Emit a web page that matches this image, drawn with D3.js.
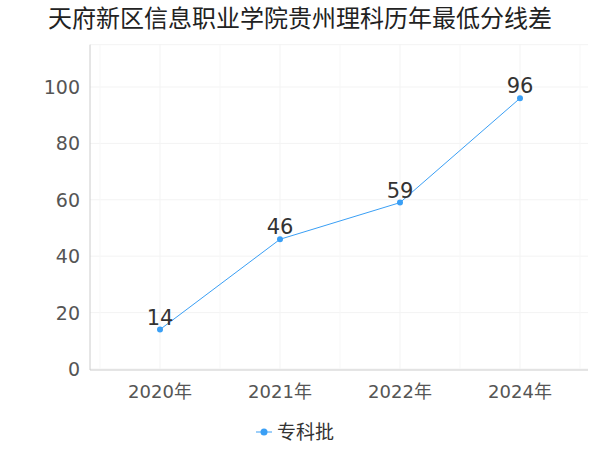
<!DOCTYPE html>
<html><head><meta charset="utf-8">
<script src="https://cdn.jsdelivr.net/npm/d3@7"></script>
<style>body{margin:0;background:#fff}text{font-family:"DejaVu Sans","Noto Sans CJK SC",sans-serif}</style>
</head><body>
<svg id="c" width="600" height="450"></svg>
<script>
const categories = ["2020年","2021年","2022年","2024年"];
const values = [14,46,59,96];
const seriesName = "专科批";
const yTicks = [0,20,40,60,80,100];

const svg = d3.select("#c");
const x = d3.scalePoint().domain(categories).range([160,520]);
const y = d3.scaleLinear().domain([0,100]).range([369,87]);
const color = "#3a9ff5";

svg.append("text").attr("x",300).attr("y",27).attr("text-anchor","middle")
  .attr("font-size",24).attr("fill","#222").text("天府新区信息职业学院贵州理科历年最低分线差");

const gy = [0,20,40,60,80,100,115];
svg.selectAll(".gh").data(gy).enter().append("line")
  .attr("x1",90).attr("x2",588).attr("y1",d=>y(d)).attr("y2",d=>y(d))
  .attr("stroke","#f3f3f3");
svg.selectAll(".gv").data(categories).enter().append("line")
  .attr("x1",d=>x(d)).attr("x2",d=>x(d)).attr("y1",y(115)).attr("y2",369)
  .attr("stroke","#f3f3f3");
[100,220,340,460,580].forEach(v=>svg.append("line").attr("x1",v).attr("x2",v).attr("y1",y(115)).attr("y2",369).attr("stroke","#f7f7f7"));

svg.append("line").attr("x1",90).attr("x2",90).attr("y1",y(115)).attr("y2",370).attr("stroke","#ccc");
svg.append("line").attr("x1",90).attr("x2",588).attr("y1",370).attr("y2",370).attr("stroke","#ccc");

svg.selectAll(".yt").data(yTicks).enter().append("text")
  .attr("x",80).attr("y",d=>y(d)+7).attr("text-anchor","end")
  .attr("font-size",19).attr("fill","#555").text(d=>d);
svg.selectAll(".xt").data(categories).enter().append("text")
  .attr("x",d=>x(d)).attr("y",398).attr("text-anchor","middle")
  .attr("font-size",18).attr("fill","#555").text(d=>d);

const line = d3.line().x((d,i)=>x(categories[i])).y(d=>y(d));
svg.append("path").datum(values).attr("d",line).attr("fill","none").attr("stroke",color).attr("stroke-width",1);
svg.selectAll(".pt").data(values).enter().append("circle")
  .attr("cx",(d,i)=>x(categories[i])).attr("cy",d=>y(d)).attr("r",3).attr("fill",color);
svg.selectAll(".lb").data(values).enter().append("text")
  .attr("x",(d,i)=>x(categories[i])).attr("y",d=>y(d)-5).attr("text-anchor","middle")
  .attr("font-size",21).attr("fill","#333").text(d=>d);

svg.append("line").attr("x1",256).attr("x2",272).attr("y1",432).attr("y2",432).attr("stroke",color);
svg.append("circle").attr("cx",264).attr("cy",432).attr("r",3.5).attr("fill",color);
svg.append("text").attr("x",277).attr("y",439).attr("font-size",19).attr("fill","#333").text(seriesName);
</script>
</body></html>
